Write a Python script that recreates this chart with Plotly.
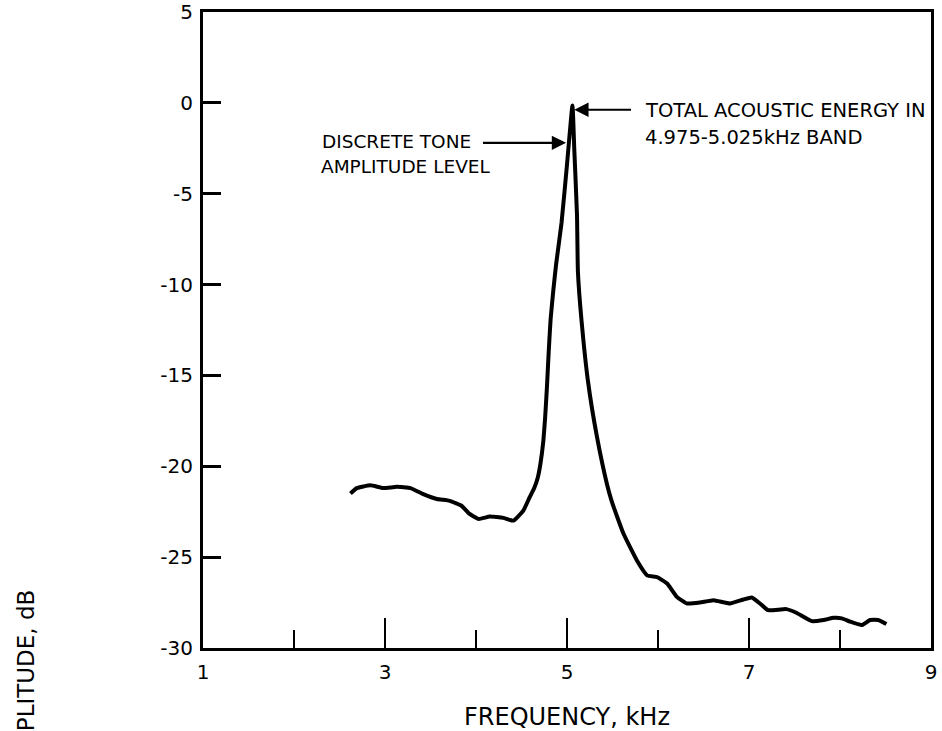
import plotly.graph_objects as go

# spectrum
freq_khz = [2.62, 2.69, 2.84, 2.98, 3.13, 3.28, 3.42, 3.57, 3.71, 3.84,
            3.93, 4.03, 4.15, 4.30, 4.41, 4.52, 4.59, 4.64, 4.68, 4.71,
            4.74, 4.76, 4.78, 4.80, 4.82, 4.85, 4.88, 4.94, 5.00, 5.06,
            5.08, 5.11, 5.12, 5.16, 5.23, 5.33, 5.44, 5.49, 5.56, 5.62,
            5.77, 5.88, 5.99, 6.10, 6.21, 6.32, 6.46, 6.61, 6.79, 6.94,
            7.03, 7.12, 7.21, 7.41, 7.52, 7.69, 7.82, 7.93, 8.02, 8.11,
            8.24, 8.33, 8.42, 8.51]
amp_db = [-21.5, -21.2, -21.05, -21.2, -21.13, -21.2, -21.53, -21.8, -21.9, -22.17,
          -22.62, -22.9, -22.77, -22.84, -22.99, -22.44, -21.7, -21.2, -20.6, -19.8,
          -18.6, -17.3, -15.6, -13.6, -11.9, -10.3, -8.9, -6.6, -3.4, -0.15,
          -2.55, -6.2, -9.3, -12.0, -15.3, -18.4, -21.0, -21.9, -22.9, -23.7,
          -25.2, -26.0, -26.1, -26.45, -27.2, -27.55, -27.5, -27.37, -27.55, -27.33,
          -27.22, -27.55, -27.92, -27.86, -28.06, -28.52, -28.46, -28.34, -28.37, -28.55,
          -28.74, -28.46, -28.46, -28.68]

y_ticks = [5, 0, -5, -10, -15, -20, -25, -30]
x_ticks = [1, 3, 5, 7, 9]

FONT = "DejaVu Sans"

fig = go.Figure()
fig.add_trace(go.Scatter(
    x=freq_khz, y=amp_db, mode="lines",
    line=dict(color="black", width=4, shape="spline", smoothing=0.4),
    showlegend=False, hoverinfo="skip",
))

fig.update_xaxes(
    range=[1, 9], tickvals=x_ticks, ticktext=[str(v) for v in x_ticks],
    ticks="inside", ticklen=30, tickwidth=2, tickcolor="black",
    minor=dict(tickvals=[2, 4, 6, 8], ticks="inside", ticklen=18,
               tickwidth=2, tickcolor="black"),
    showline=True, linecolor="black", linewidth=3, mirror=True,
    showgrid=False, zeroline=False, automargin=False,
    tickfont=dict(family=FONT, size=20, color="black"),
    ticklabelstandoff=4,
    title=dict(text="FREQUENCY, kHz", font=dict(family=FONT, size=24, color="black"),
               standoff=26),
)
fig.update_yaxes(
    range=[-30, 5], tickvals=y_ticks, ticktext=[str(v) for v in y_ticks],
    ticks="inside", ticklen=18, tickwidth=2.5, tickcolor="black",
    showline=True, linecolor="black", linewidth=3, mirror=True,
    showgrid=False, zeroline=False, automargin=False,
    tickfont=dict(family=FONT, size=20, color="black"),
    ticklabelstandoff=3,
)

left_font = dict(family=FONT, size=18.5, color="black")
right_font = dict(family=FONT, size=19.5, color="black")

# y axis title, sits low and runs off the bottom edge
fig.add_annotation(
    text="AMPLITUDE, dB", textangle=-90, xref="paper", yref="paper",
    x=-0.243, y=0.094, xanchor="center", yanchor="top", showarrow=False,
    font=dict(family=FONT, size=23, color="black"),
)

# left callout
fig.add_annotation(text="DISCRETE TONE", x=2.29, y=-2.11, xanchor="left", yanchor="middle",
                   showarrow=False, font=left_font)
fig.add_annotation(text="AMPLITUDE LEVEL", x=2.27, y=-3.5, xanchor="left", yanchor="middle",
                   showarrow=False, font=left_font)
fig.add_annotation(text="", x=4.99, y=-2.2, ax=4.06, ay=-2.2, axref="x", ayref="y",
                   showarrow=True, arrowhead=2, arrowsize=1.3, arrowwidth=2.2,
                   arrowcolor="black")

# right callout
fig.add_annotation(text="TOTAL ACOUSTIC ENERGY IN", x=5.835, y=-0.44, xanchor="left",
                   yanchor="middle", showarrow=False, font=right_font)
fig.add_annotation(text="4.975-5.025kHz BAND", x=5.835, y=-1.92, xanchor="left",
                   yanchor="middle", showarrow=False, font=right_font)
fig.add_annotation(text="", x=5.08, y=-0.38, ax=5.72, ay=-0.38, axref="x", ayref="y",
                   showarrow=True, arrowhead=2, arrowsize=1.3, arrowwidth=2.2,
                   arrowcolor="black")

fig.update_layout(
    width=942, height=731,
    margin=dict(l=203, r=11, t=12, b=83),
    paper_bgcolor="white", plot_bgcolor="white",
    font=dict(family=FONT, color="black"),
)

fig.write_html("out.html", config={"displayModeBar": False},
               post_script="document.body.style.margin='0';")
